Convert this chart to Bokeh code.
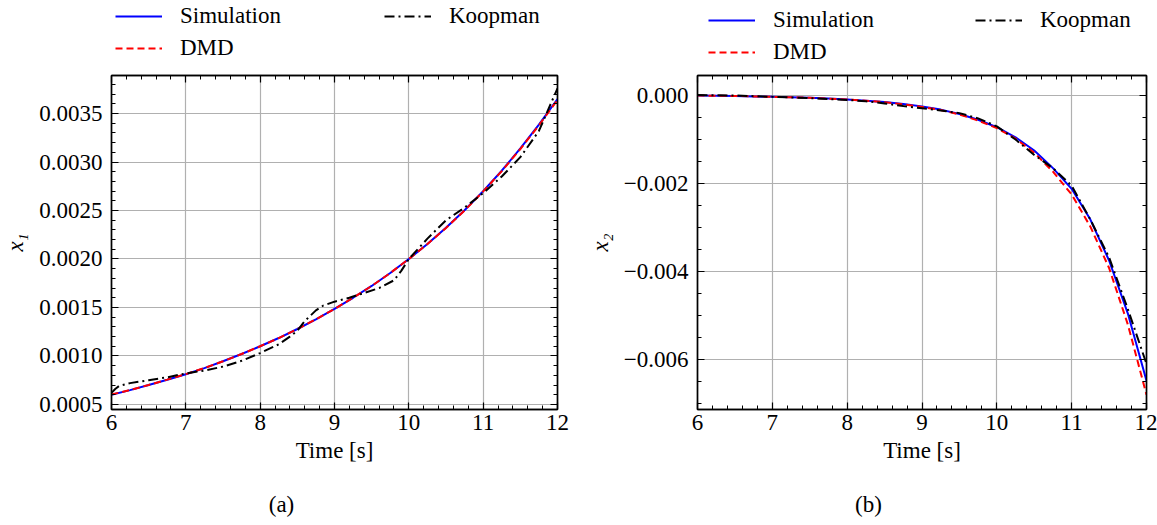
from bokeh.plotting import figure
from bokeh.models import (Range1d, LinearAxis, SingleIntervalTicker, CustomJSTickFormatter,
                          Legend, LegendItem, Label, Grid)
from bokeh.layouts import row, column
from bokeh.embed import file_html
from bokeh.resources import INLINE

# ---------------- data ----------------
time = [6.0, 6.25, 6.5, 6.75, 7.0, 7.25, 7.5, 7.75, 8.0, 8.25, 8.5, 8.75, 9.0,
        9.25, 9.5, 9.75, 10.0, 10.25, 10.5, 10.75, 11.0, 11.25, 11.5, 11.75, 12.0]

x1_sim = [0.000600, 0.000648, 0.000700, 0.000755, 0.000812, 0.000875, 0.000945, 0.001020,
          0.001100, 0.001185, 0.001278, 0.001378, 0.001485, 0.001600, 0.001722, 0.001855,
          0.002000, 0.002155, 0.002322, 0.002502, 0.002700, 0.002910, 0.003140, 0.003385, 0.003650]
x1_dmd = [0.000602, 0.000649, 0.000701, 0.000756, 0.000813, 0.000876, 0.000945, 0.001020,
          0.001100, 0.001185, 0.001278, 0.001378, 0.001485, 0.001600, 0.001722, 0.001855,
          0.002000, 0.002154, 0.002320, 0.002500, 0.002697, 0.002906, 0.003134, 0.003378, 0.003640]
time_k1 = [6.0, 6.05, 6.1, 6.25, 6.5, 6.75, 7.0, 7.25, 7.5, 7.75, 8.0, 8.25, 8.4, 8.5, 8.6,
           8.75, 8.85, 9.0, 9.2, 9.4, 9.6, 9.8, 9.9, 10.0, 10.25, 10.5, 10.75, 11.0, 11.25,
           11.5, 11.75, 12.0]
x1_koop = [0.00062, 0.00066, 0.00069, 0.00072, 0.00075, 0.00078, 0.00082, 0.00085, 0.00089,
           0.00095, 0.00103, 0.00112, 0.00120, 0.00126, 0.00136, 0.00147, 0.00152, 0.00156,
           0.00160, 0.00165, 0.00170, 0.00178, 0.00188, 0.00200, 0.00221, 0.00240, 0.00253,
           0.00268, 0.00285, 0.00305, 0.00332, 0.00376]

x2_sim = [0.0, -0.000005, -0.00001, -0.00002, -0.00003, -0.00004, -0.00005, -0.00007,
          -0.00009, -0.00012, -0.00015, -0.00019, -0.00025, -0.00032, -0.00042, -0.00055,
          -0.00072, -0.00095, -0.00125, -0.00165, -0.00212, -0.00282, -0.00375, -0.00495, -0.00648]
x2_dmd = [0.0, -0.000005, -0.00001, -0.00002, -0.00003, -0.00004, -0.00005, -0.00007,
          -0.00009, -0.00012, -0.00015, -0.00020, -0.00026, -0.00033, -0.00043, -0.00057,
          -0.00074, -0.00098, -0.00130, -0.00173, -0.00225, -0.00298, -0.00392, -0.00520, -0.00680]
time_k2 = [6.0, 6.5, 7.0, 7.5, 8.0, 8.25, 8.5, 8.75, 9.0, 9.25, 9.5, 9.75, 10.0, 10.25,
           10.5, 10.75, 11.0, 11.25, 11.5, 11.75, 12.0]
x2_koop = [0.00001, 0.0, -0.00003, -0.00006, -0.0001, -0.00013, -0.00018, -0.00024, -0.00029,
           -0.00034, -0.00040, -0.00052, -0.00070, -0.00100, -0.00135, -0.00165, -0.00205,
           -0.00282, -0.00368, -0.00485, -0.00610]

series_labels = ["Simulation", "DMD", "Koopman"]
x_label = "Time [s]"
y_labels = ["x\u2081", "x\u2082"]
captions = ["(a)", "(b)"]

FONT = "Liberation Serif"
FS = "23px"
STYLES = [dict(line_color="#0000ff", line_width=2),
          dict(line_color="#ff0000", line_width=2, line_dash="7 4"),
          dict(line_color="black", line_width=2, line_dash="10 4 2 4")]


def blank_fig(width, height):
    f = figure(width=width, height=height, output_backend="svg", toolbar_location=None,
               x_range=Range1d(0, 1), y_range=Range1d(0, 1),
               min_border=0, min_border_top=0, min_border_bottom=0,
               x_axis_location=None, y_axis_location=None)
    f.xgrid.grid_line_color = None
    f.ygrid.grid_line_color = None
    f.outline_line_color = None
    f.background_fill_color = "white"
    f.border_fill_color = "white"
    return f


def style_axis(ax, ticker, formatter, show_labels=True):
    ax.ticker = ticker
    ax.major_tick_in = 7
    ax.major_tick_out = 0
    ax.minor_tick_in = 4
    ax.minor_tick_out = 0
    ax.major_tick_line_color = "black"
    ax.minor_tick_line_color = "black"
    ax.major_tick_line_width = 1.2
    ax.minor_tick_line_width = 1.0
    ax.axis_line_color = "black"
    ax.axis_line_width = 1.4
    ax.major_label_text_font = FONT
    ax.major_label_text_font_size = FS
    ax.major_label_text_color = "black"
    ax.axis_label_text_font = FONT
    ax.axis_label_text_font_size = FS
    ax.axis_label_text_color = "black"
    ax.axis_label_text_font_style = "normal"
    if show_labels:
        ax.formatter = formatter
    else:
        ax.formatter = CustomJSTickFormatter(code="return ''")
        ax.major_label_standoff = 0


def make_legend_fig(width, lx, ly, lw):
    f = blank_fig(width, 70)
    # legend-only renderers: their data lie outside the visible ranges
    rs = [f.line([-3, -2], [-3, -2], **s) for s in STYLES]
    legend = Legend(items=[LegendItem(label=lab, renderers=[r]) for lab, r in zip(series_labels, rs)],
                    location=(lx, ly), orientation="vertical", nrows=2,
                    background_fill_alpha=0, border_line_color=None,
                    padding=0, margin=0, spacing=6,
                    glyph_width=47, glyph_height=26, label_height=26, label_width=lw,
                    label_standoff=18, label_text_font=FONT, label_text_font_size=FS,
                    label_text_color="black")
    f.add_layout(legend, "center")
    return f


def make_caption_fig(width, cx, text):
    f = blank_fig(width, 45)
    f.add_layout(Label(x=cx, y=21, x_units="screen", y_units="screen", text=text,
                       text_font=FONT, text_font_size=FS, text_color="black",
                       text_align="center", text_baseline="middle"))
    return f


def make_panel(ts, sim, dmd, tk, koop, y_range, yticker, yfmt, ylabel, width, bl, br):
    p = figure(width=width, height=410, output_backend="svg", toolbar_location=None,
               x_range=Range1d(6, 12), y_range=y_range,
               min_border_left=bl, min_border_right=br, min_border_top=5, min_border_bottom=71,
               x_axis_location=None, y_axis_location=None)
    p.background_fill_color = "white"
    p.border_fill_color = "white"
    p.outline_line_color = "black"
    p.outline_line_width = 1.4

    xticker = SingleIntervalTicker(interval=1, num_minor_ticks=5)
    xfmt = CustomJSTickFormatter(code="return tick.toFixed(0)")

    xb = LinearAxis(axis_label=x_label)
    style_axis(xb, xticker, xfmt)
    xb.major_label_standoff = 5
    xb.axis_label_standoff = 5
    p.add_layout(xb, "below")
    xt = LinearAxis()
    style_axis(xt, xticker, xfmt, show_labels=False)
    p.add_layout(xt, "above")

    yl = LinearAxis(axis_label=ylabel)
    style_axis(yl, yticker, yfmt)
    yl.axis_label_text_font_style = "italic"
    yl.major_label_standoff = 9
    yl.axis_label_standoff = 8
    p.add_layout(yl, "left")
    yr = LinearAxis()
    style_axis(yr, yticker, yfmt, show_labels=False)
    p.add_layout(yr, "right")

    p.xgrid.grid_line_color = None
    p.ygrid.grid_line_color = None
    p.add_layout(Grid(dimension=0, ticker=xticker, grid_line_color="#b0b0b0", grid_line_width=1.2))
    p.add_layout(Grid(dimension=1, ticker=yticker, grid_line_color="#b0b0b0", grid_line_width=1.2))

    p.line(ts, sim, **STYLES[0])
    p.line(ts, dmd, **STYLES[1])
    p.line(tk, koop, **STYLES[2])
    return p


fmt1 = CustomJSTickFormatter(code="return tick.toFixed(4)")
fmt2 = CustomJSTickFormatter(code="return (tick < -1e-12 ? '\u2212' : '') + Math.abs(tick).toFixed(3)")

p1 = make_panel(time, x1_sim, x1_dmd, time_k1, x1_koop, Range1d(0.000448, 0.003892),
                SingleIntervalTicker(interval=0.0005, num_minor_ticks=5), fmt1,
                y_labels[0], 577, 110, 20)
p2 = make_panel(time, x2_sim, x2_dmd, time_k2, x2_koop, Range1d(-0.007136, 0.000455),
                SingleIntervalTicker(interval=0.002, num_minor_ticks=4), fmt2,
                y_labels[1], 580, 120, 11)
l1 = make_legend_fig(577, 4, 9, 198)
l2 = make_legend_fig(580, 11, 5, 196)
c1 = make_caption_fig(577, 170, captions[0])
c2 = make_caption_fig(580, 171, captions[1])

layout = row(column(l1, p1, c1, spacing=0), column(l2, p2, c2, spacing=0), spacing=0)
open("out.html", "w").write(file_html(layout, INLINE))
